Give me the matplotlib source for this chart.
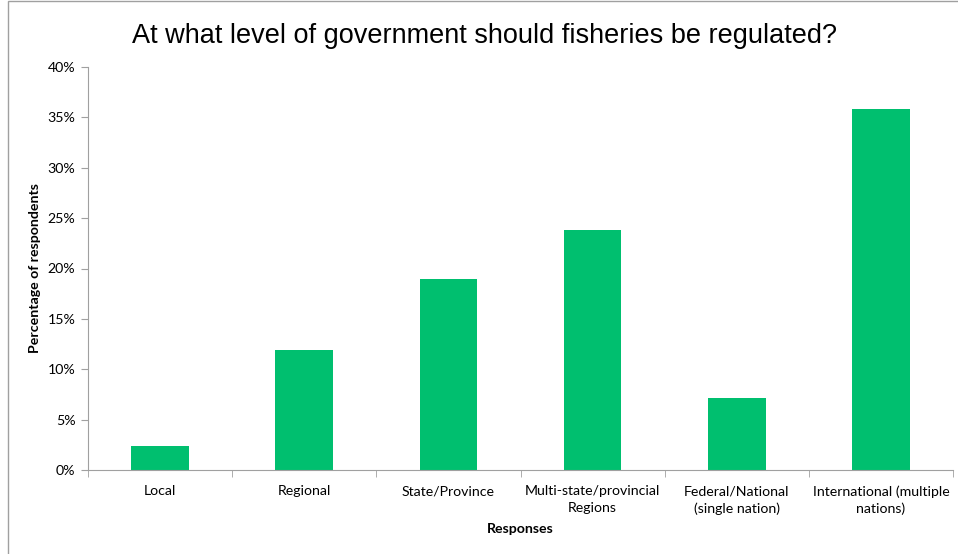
import matplotlib
matplotlib.use("Agg")
import matplotlib.pyplot as plt
from matplotlib.patches import Rectangle
from matplotlib.ticker import FuncFormatter, MultipleLocator

categories = ["Local", "Regional", "State/Province", "Multi-state/provincial\nRegions",
              "Federal/National\n(single nation)", "International (multiple\nnations)"]
values = [2.4, 11.9, 19.0, 23.8, 7.1, 35.8]

fig = plt.figure(figsize=(9.58, 5.54), dpi=100)
ax = fig.add_axes([88/958, 1 - 470/554, (953-88)/958, (470-67)/554])

x = list(range(len(categories)))
ax.bar(x, values, width=0.4, color="#00BF6F", zorder=2)
ax.set_xlim(-0.5, len(categories) - 0.5)
ax.set_ylim(0, 40)
ax.yaxis.set_major_locator(MultipleLocator(5))
ax.yaxis.set_major_formatter(FuncFormatter(lambda v, p: f"{int(v)}%"))

fs = 10.2
ax.set_xticks(x)
ax.set_xticklabels(categories, fontsize=fs, family="Lato", linespacing=1.45)
ax.set_xticks([i - 0.5 for i in range(len(categories) + 1)], minor=True)
ax.tick_params(axis="x", which="major", length=0, pad=11)
ax.tick_params(axis="x", which="minor", length=5, color="#a0a0a0", direction="out")
ax.tick_params(axis="y", length=5, color="#a0a0a0", direction="out", labelsize=fs, pad=4)
for lab in ax.get_yticklabels():
    lab.set_family("Lato")

for s in ["top", "right"]:
    ax.spines[s].set_visible(False)
for s in ["left", "bottom"]:
    ax.spines[s].set_color("#a0a0a0")

ax.set_xlabel("Responses", fontsize=fs, fontweight="bold", family="Lato", labelpad=6)
ax.set_ylabel("Percentage of respondents", fontsize=fs, fontweight="bold", family="Lato", labelpad=5)

fig.text(485/958, 1 - 36/554, "At what level of government should fisheries be regulated?",
         ha="center", va="center", fontsize=19.5, family="Liberation Sans")

fig.patches.append(Rectangle((8/958, -0.1), 1.2, 1 - 1/554 + 0.1, transform=fig.transFigure,
                             fill=False, edgecolor="#a0a0a0", linewidth=1))

fig.savefig("out.png", dpi=100)
